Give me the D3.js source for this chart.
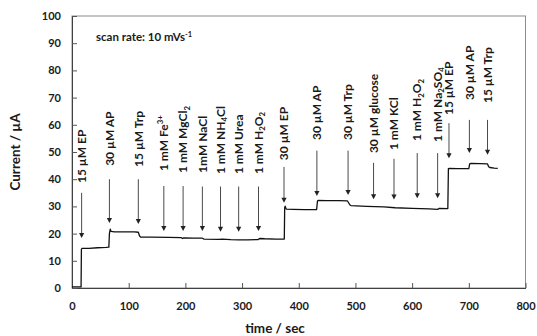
<!DOCTYPE html>
<html>
<head>
<meta charset="utf-8">
<script src="https://cdn.jsdelivr.net/npm/d3@7/dist/d3.min.js"></script>
<style>
  html, body { margin: 0; padding: 0; background: #fff; }
  svg { display: block; font-family: Lato, "Open Sans", sans-serif; font-weight: bold; }
</style>
</head>
<body>
<svg id="chart" width="537" height="336"></svg>
<script>
// Amperometric response: time (s) and current (µA)
const timeSec = [0, 16, 16.6, 18, 30, 45, 60, 65, 66, 67.5, 69, 75, 90, 110, 117, 119, 121, 140, 170, 193, 195, 197, 215, 230, 233, 260, 265, 280, 294, 310, 328, 331, 340, 360, 374.5, 375.2, 376, 378, 390, 410, 431.5, 433, 434, 450, 470, 486, 490, 492, 520, 550, 570, 600, 630, 645, 648, 663, 664, 666, 680, 700, 701.5, 704, 720, 733, 735, 737, 745, 751];
const currentUA = [0.4, 0.4, 14.3, 14.6, 14.6, 14.8, 14.9, 15.0, 20.0, 21.6, 20.8, 20.6, 20.6, 20.6, 20.5, 19.2, 18.7, 18.7, 18.6, 18.5, 18.2, 18.4, 18.3, 18.3, 18.0, 17.9, 18.0, 17.8, 17.7, 17.7, 17.8, 18.2, 18.1, 18.0, 18.0, 29.5, 30.1, 29.0, 28.9, 28.8, 28.8, 31.9, 32.2, 32.1, 32.1, 32.0, 30.6, 30.3, 30.0, 29.8, 29.5, 29.3, 29.1, 28.9, 29.3, 29.2, 43.9, 44.0, 43.9, 43.9, 45.6, 45.8, 45.7, 45.6, 44.6, 44.3, 44.1, 44.0];

// Injection annotations: time, label, arrow start / tip and label base (µA)
const injectTime  = [17, 66, 117, 162, 196, 230, 262, 294, 329, 374, 432, 487, 532, 568, 609, 645, 665, 701, 733];
const injectLabel = ["15 µM EP", "30 µM AP", "15 µM Trp", "1 mM Fe^{3+}", "1 mM MgCl_{2}", "1mM NaCl",
                     "1 mM NH_{4}Cl", "1 mM Urea", "1 mM H_{2}O_{2}", "30 µM EP", "30 µM AP", "30 µM Trp",
                     "30 µM glucose", "1 mM KCl", "1 mM H_{2}O_{2}", "1 mM Na_{2}SO_{4}", "15 µM EP", "30 µM AP", "15 µM Trp"];
const arrowFrom   = [35, 40, 40, 37.5, 37.5, 37.3, 37.3, 37.3, 37.3, 44.5, 50.5, 50.5, 46, 47.5, 49.6, 49.6, 60.6, 61.8, 61.8];
const arrowTo     = [18.4, 23.9, 23.5, 21, 21, 21, 20.7, 20.7, 21, 31.3, 33.8, 34.2, 32.6, 32.5, 33, 33, 47.7, 49.6, 49];
const labelBase   = [38.6, 44.9, 44.5, 43, 42.3, 42.3, 41.9, 41.9, 41.9, 47, 54.4, 54.4, 49.6, 50.7, 54, 53.7, 63.6, 69.1, 68];

const xTicks = [0, 100, 200, 300, 400, 500, 600, 700, 800];
const yTicks = [0, 10, 20, 30, 40, 50, 60, 70, 80, 90, 100];
const xTitle = "time / sec";
const yTitle = "Current / µA";
const noteText = "scan rate: 10 mVs^{-1}";

const svg = d3.select("#chart");
const L = 72, R = 525.5, T = 16, B = 288;
const x = d3.scaleLinear().domain([0, 800]).range([L, R]);
const y = d3.scaleLinear().domain([0, 100]).range([B, T]);

// Writes "a_{2}" / "a^{3+}" markup as tspans with sub/superscripts;
// the baseline shift is undone on the following run of normal text.
function richText(sel, str, size) {
  const parts = str.split(/(_\{[^}]*\}|\^\{[^}]*\})/).filter(s => s.length);
  let restore = 0;
  parts.forEach(p => {
    if (p.startsWith("_{") || p.startsWith("^{")) {
      const shift = p.startsWith("_{") ? size * 0.22 : -size * 0.38;
      sel.append("tspan").attr("font-size", size * 0.65).attr("dy", shift + restore).text(p.slice(2, -1));
      restore = -shift;
    } else {
      const t = sel.append("tspan").attr("font-size", size).text(p);
      if (restore) t.attr("dy", restore);
      restore = 0;
    }
  });
}

// plot frame
svg.append("rect")
  .attr("x", L).attr("y", T).attr("width", R - L).attr("height", B - T)
  .attr("fill", "none").attr("stroke", "#8c8c8c").attr("stroke-width", 1);

// axes
const gx = svg.append("g").attr("transform", `translate(0,${B})`)
  .call(d3.axisBottom(x).tickValues(xTicks).tickSizeInner(-5).tickSizeOuter(0).tickPadding(14));
const gy = svg.append("g").attr("transform", `translate(${L},0)`)
  .call(d3.axisLeft(y).tickValues(yTicks).tickSizeInner(-5).tickSizeOuter(0).tickPadding(11));
[gx, gy].forEach(g => {
  g.select(".domain").attr("stroke", "#404040");
  g.selectAll(".tick line").attr("stroke", "#555");
  g.selectAll(".tick text").attr("fill", "#1a1a1a")
    .style("font-family", "Lato, 'Open Sans', sans-serif").style("font-weight", "bold").style("font-size", "11px");
});

// axis titles
svg.append("text").attr("x", 275).attr("y", 333).attr("text-anchor", "middle")
  .attr("font-size", 13.5).attr("fill", "#1a1a1a").text(xTitle);
svg.append("text").attr("transform", `translate(20,${(T + B) / 2}) rotate(-90)`)
  .attr("text-anchor", "middle").attr("font-size", 13.5).attr("fill", "#1a1a1a").text(yTitle);

// note
const note = svg.append("text").attr("x", 96).attr("y", 41).attr("font-size", 11.5).attr("fill", "#1a1a1a");
richText(note, noteText, 11.5);

// current trace
const pts = timeSec.map((t, i) => [t, currentUA[i]]);
svg.append("path").datum(pts)
  .attr("fill", "none").attr("stroke", "#111").attr("stroke-width", 1.3).attr("stroke-linejoin", "round")
  .attr("d", d3.line().x(d => x(d[0])).y(d => y(d[1])));

// injection arrows and labels
const notes = injectTime.map((t, i) => ({ t, label: injectLabel[i], from: arrowFrom[i], to: arrowTo[i], base: labelBase[i] }));
const ag = svg.append("g");
notes.forEach(n => {
  const ax = x(n.t), y0 = y(n.from), y1 = y(n.to);
  ag.append("line").attr("x1", ax).attr("x2", ax).attr("y1", y0).attr("y2", y1 - 4)
    .attr("stroke", "#4a4a4a").attr("stroke-width", 1);
  ag.append("path").attr("d", `M${ax - 2.6},${y1 - 5}L${ax + 2.6},${y1 - 5}L${ax},${y1}Z`).attr("fill", "#222");
  const tx = ag.append("text")
    .attr("transform", `translate(${ax + 4.2},${y(n.base)}) rotate(-90)`)
    .attr("font-size", 12).attr("fill", "#1a1a1a");
  richText(tx, n.label, 12);
});
</script>
</body>
</html>
